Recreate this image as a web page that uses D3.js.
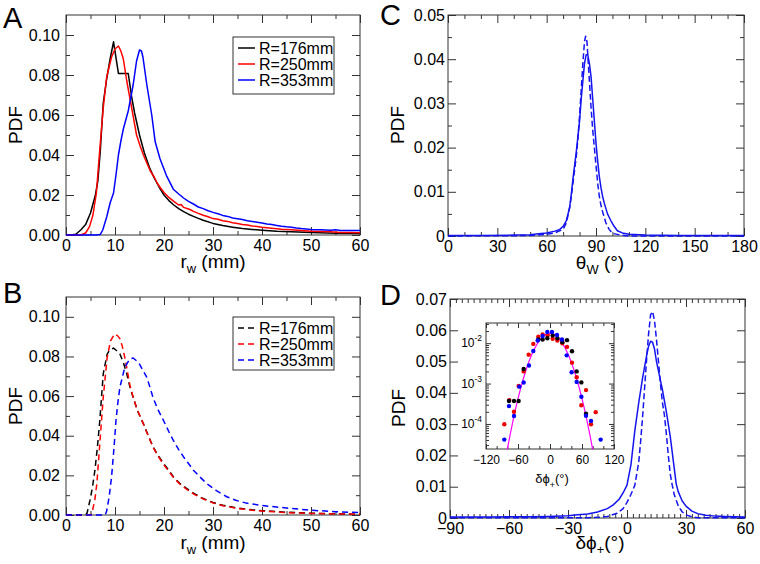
<!DOCTYPE html>
<html><head><meta charset="utf-8">
<script src="https://cdn.jsdelivr.net/npm/d3@7"></script>
<style>body{margin:0;background:#fff}svg{display:block;font-family:"Liberation Sans",Arial,Helvetica,sans-serif}</style>
</head><body><svg id="c" width="760" height="564"></svg>
<script>
// ---------------- DATA ----------------
const legendNames = ["R=176mm", "R=250mm", "R=353mm"];
const seriesColors = ["#000000", "#ff0000", "#0000ff"];

// Panel A (measured PDFs of r_w)
const aR176 = [[0,0],[1,0],[2,0.0004],[3,0.0025],[4,0.0052],[5,0.011],[6,0.020],[6.5,0.027],[7,0.042],[7.6,0.066],[8.3,0.078],[9,0.088],[9.7,0.0966],[10.7,0.0808],[12.7,0.0808],[13.4,0.069],[14,0.061],[15,0.05],[16,0.041],[17,0.034],[18,0.0285],[19,0.024],[20,0.0200],[21,0.0172],[22,0.0150],[23,0.0132],[24,0.0117],[25,0.0104],[26,0.0093],[27,0.0083],[28,0.0074],[30,0.0058],[32,0.0047],[34,0.0039],[36,0.0032],[38,0.0028],[40,0.0024],[43,0.0019],[46,0.0016],[50,0.0012],[55,0.0009],[60,0.0007]];
const aR250 = [[0,0],[3,0],[3.5,0.0005],[4,0.001],[4.8,0.0042],[5.5,0.01],[6.2,0.021],[6.9,0.043],[7.6,0.0636],[8.3,0.079],[9.3,0.089],[10,0.093],[10.7,0.0945],[11.2,0.092],[11.7,0.088],[12.4,0.077],[13.4,0.0636],[14.4,0.05],[15.2,0.044],[15.8,0.04],[16.5,0.036],[17.2,0.032],[18,0.029],[18.6,0.026],[19.3,0.0235],[20,0.0213],[21,0.0188],[22,0.0168],[23,0.0150],[23.5,0.0152],[24,0.0138],[25,0.0130],[25.5,0.0125],[26,0.0118],[27,0.0108],[28,0.0099],[29,0.0091],[30,0.0082],[31,0.0079],[32,0.0071],[33,0.0068],[34,0.0061],[35,0.0058],[36,0.0053],[37,0.0050],[38,0.0045],[39,0.0043],[40,0.0039],[42,0.0034],[44,0.0029],[46,0.0026],[48,0.0022],[50,0.0019],[52,0.0017],[54,0.0016],[56,0.0013],[58,0.0012],[60,0.0011]];
const aR353 = [[0,0],[6,0],[7,0.0003],[7.5,0.0025],[8.3,0.009],[9,0.016],[9.7,0.021],[10.2,0.03],[10.7,0.04],[11.2,0.047],[11.7,0.053],[12.7,0.062],[13.7,0.075],[14.4,0.087],[15,0.0925],[15.4,0.092],[15.7,0.089],[16.5,0.075],[17.5,0.06],[18.2,0.0466],[19.2,0.038],[20.5,0.0297],[21.9,0.0229],[23,0.0205],[24,0.0185],[25,0.0168],[26,0.0155],[27,0.0140],[28,0.0132],[29,0.0121],[30,0.0113],[31,0.0106],[32,0.0098],[33,0.0093],[34,0.0085],[35,0.0081],[36,0.0077],[37,0.0071],[38,0.0068],[39,0.0064],[40,0.0060],[41,0.0055],[42,0.0052],[43,0.0048],[44,0.0044],[45,0.0041],[46,0.0039],[47,0.0035],[48,0.0032],[49,0.0030],[50,0.0028],[52,0.0026],[54,0.0024],[55,0.0026],[56,0.0022],[58,0.0023],[60,0.0022]];

// Panel B (model PDFs of r_w, dashed)
const bR176 = [[0,0],[4,0],[4.3,0.001],[4.9,0.0075],[5.4,0.014],[5.9,0.0226],[6.4,0.034],[6.9,0.0477],[7.6,0.0712],[8.4,0.0812],[9.0,0.0835],[9.7,0.0842],[10.3,0.083],[11,0.0812],[11.7,0.077],[12.4,0.0712],[13,0.065],[13.7,0.0594],[14.7,0.052],[15.8,0.046],[16.8,0.040],[17.8,0.0343],[18.8,0.030],[19.9,0.026],[21,0.0225],[21.9,0.0193],[23.2,0.016],[24.6,0.0134],[26,0.011],[28,0.0083],[30,0.0063],[32,0.0049],[35,0.0035],[38,0.0026],[40,0.0022],[45,0.0014],[50,0.0009],[55,0.0006],[60,0.0004]];
const bR250 = [[0,0],[5,0],[5.4,0.002],[5.9,0.008],[6.3,0.0159],[6.9,0.036],[7.6,0.0594],[8.4,0.0795],[9.1,0.0879],[9.9,0.0913],[10.5,0.0905],[11,0.089],[11.5,0.085],[12,0.0795],[12.5,0.073],[13,0.066],[13.7,0.0595],[14.4,0.054],[15.8,0.046],[16.8,0.0398],[17.8,0.034],[18.8,0.0297],[19.9,0.0255],[21,0.022],[21.9,0.019],[23.2,0.0157],[24.6,0.013],[26,0.0107],[28,0.0081],[30,0.0061],[32,0.0047],[35,0.0033],[38,0.0024],[40,0.0020],[45,0.0012],[50,0.0008],[55,0.0005],[60,0.0004]];
const bR353 = [[0,0],[8,0],[8.3,0.002],[8.8,0.009],[9.3,0.0193],[9.8,0.034],[10.2,0.0477],[10.6,0.057],[11,0.0645],[12,0.0745],[13,0.0787],[13.7,0.0792],[14.8,0.077],[15.7,0.073],[16.5,0.0695],[17.8,0.059],[18.8,0.053],[19.9,0.0477],[21,0.042],[21.9,0.0377],[23,0.033],[24,0.0293],[25,0.026],[26,0.0226],[27.3,0.0193],[28.7,0.0159],[30.7,0.0123],[32.8,0.0092],[34.8,0.0073],[36.8,0.0060],[40,0.0048],[45,0.0035],[50,0.0024],[55,0.0017],[60,0.0012]];

// Panel C (theta_W)
const cSolid = [[0,0.0001],[20,0.0001],[40,0.0002],[50,0.0003],[55,0.0005],[60,0.0007],[65,0.0011],[68,0.0015],[70,0.0022],[72,0.0035],[74,0.0065],[75,0.0095],[76,0.013],[77,0.016],[78,0.019],[79,0.0225],[80,0.026],[81,0.031],[82,0.035],[83,0.039],[84,0.041],[85,0.041],[86,0.039],[87,0.036],[88,0.031],[89,0.026],[90,0.021],[91,0.017],[92,0.0135],[93,0.011],[94,0.009],[95,0.0075],[97,0.005],[99,0.0035],[101,0.0022],[103,0.0012],[106,0.0007],[110,0.0004],[120,0.0002],[140,0.0001],[180,0.0001]];
const cDashed = [[0,0],[50,0.0001],[60,0.0004],[65,0.0007],[70,0.0015],[72,0.003],[74,0.0065],[75,0.009],[76,0.012],[77,0.015],[78,0.018],[79,0.022],[80,0.027],[81,0.033],[82,0.039],[83,0.044],[83.7,0.0452],[84.5,0.044],[85,0.041],[86,0.035],[87,0.029],[88,0.024],[89,0.020],[90,0.016],[91,0.012],[92,0.009],[93,0.007],[94,0.0055],[96,0.003],[98,0.0015],[100,0.0006],[105,0.0002],[110,0],[180,0]];

// Panel D (delta phi_+)
const dSolid = [[-90,0.0003],[-80,0.0003],[-70,0.0003],[-60,0.0004],[-50,0.0004],[-40,0.0005],[-30,0.0007],[-25,0.0010],[-20,0.0013],[-15,0.0019],[-10,0.0030],[-7,0.0042],[-4,0.0060],[-2,0.0080],[0,0.0105],[2,0.017],[4,0.028],[6,0.037],[8,0.045],[10,0.052],[11,0.055],[12,0.0565],[13,0.0562],[14,0.054],[15,0.050],[16,0.047],[17,0.044],[18,0.041],[20,0.034],[21,0.030],[22,0.026],[24,0.016],[25,0.011],[26,0.0085],[28,0.0055],[30,0.0038],[33,0.0022],[36,0.0014],[40,0.0009],[45,0.0006],[50,0.0005],[55,0.0004],[60,0.0003]];
const dDashed = [[-90,0.0001],[-20,0.0001],[-15,0.0002],[-10,0.0005],[-5,0.0015],[-2,0.003],[0,0.005],[2,0.0075],[4,0.0105],[6,0.018],[7,0.025],[8,0.033],[9,0.042],[10,0.051],[11,0.059],[12,0.065],[13,0.066],[14,0.063],[15,0.057],[16,0.050],[17,0.043],[18,0.037],[19,0.033],[20,0.027],[21,0.020],[22,0.014],[23,0.0105],[24,0.0075],[26,0.004],[28,0.002],[30,0.001],[33,0.0004],[36,0.0001],[40,0.0001],[60,0.0001]];

// Inset of D (log scale)
const insetBlack = [[-76.9,3.7e-4],[-67.5,3.7e-4],[-58.8,3.7e-4],[-49.4,2.3e-3],[-21.9,1.23e-2],[-13.8,1.23e-2],[-5,1.33e-2],[5,1.56e-2],[13.8,1.33e-2],[23.1,1.06e-2],[31.9,1.19e-2],[41.3,6.3e-3],[50,2.0e-3],[58.8,1.07e-3],[67.5,1.8e-4]];
const insetRed = [[-85.7,9.8e-5],[-76.3,3.9e-4],[-67.5,2.0e-4],[-58.8,8.7e-4],[-49.4,2.0e-3],[-40,5.2e-3],[-31.3,9.6e-3],[-21.9,1.44e-2],[-13.8,1.65e-2],[-4.4,1.58e-2],[5,1.29e-2],[13.8,1.17e-2],[23.1,1.0e-2],[31.9,8.1e-3],[41.3,3.3e-3],[50,1.44e-3],[58.8,2.9e-4],[67.5,6.9e-4],[76.9,9.8e-5],[85.7,1.96e-4]];
const insetBlue = [[-85.7,4.1e-5],[-76.9,2.77e-4],[-67.5,1.58e-4],[-57.5,8.4e-4],[-49.4,1.06e-3],[-39.4,2.8e-3],[-31.3,6.4e-3],[-23.1,1.17e-2],[-13.8,1.5e-2],[-5,1.9e-2],[3.75,1.9e-2],[13.1,1.6e-2],[22.5,1.23e-2],[31.3,5.0e-3],[40.6,1.9e-3],[50,1.1e-3],[58.8,4.7e-4],[67.5,1.6e-4],[76.9,1.19e-4],[95,4.1e-5]];
const insetFit = [[-80,2.35e-5],[-75,5.24e-5],[-70,1.1e-4],[-65,2.22e-4],[-60,4.25e-4],[-55,7.69e-4],[-50,1.32e-3],[-45,2.16e-3],[-40,3.35e-3],[-35,4.93e-3],[-30,6.9e-3],[-25,9.17e-3],[-20,1.16e-2],[-15,1.387e-2],[-10,1.58e-2],[-5,1.705e-2],[0,1.75e-2],[5,1.705e-2],[10,1.58e-2],[15,1.387e-2],[20,1.16e-2],[25,9.17e-3],[30,6.9e-3],[35,4.93e-3],[40,3.35e-3],[45,2.16e-3],[50,1.32e-3],[55,7.69e-4],[60,4.25e-4],[65,2.22e-4],[70,1.1e-4],[75,5.24e-5],[80,2.35e-5]];

// Tick values
const rwTicks = [0,10,20,30,40,50,60];
const rwMinor = [5,15,25,35,45,55];
const pdfTicksAB = [0,0.02,0.04,0.06,0.08,0.10];
const pdfMinorAB = [0.01,0.03,0.05,0.07,0.09];
const thetaTicks = [0,30,60,90,120,150,180];
const thetaMinor = [10,20,40,50,70,80,100,110,130,140,160,170];
const pdfTicksC = [0,0.01,0.02,0.03,0.04,0.05];
const pdfMinorC = [0.005,0.015,0.025,0.035,0.045];
const phiTicks = [-90,-60,-30,0,30,60];
const phiMinor = [-87,-84,-81,-78,-75,-72,-69,-66,-63,-57,-54,-51,-48,-45,-42,-39,-36,-33,-27,-24,-21,-18,-15,-12,-9,-6,-3,3,6,9,12,15,18,21,24,27,33,36,39,42,45,48,51,54,57];
const pdfTicksD = [0,0.01,0.02,0.03,0.04,0.05,0.06,0.07];
const insetXTicks = [-120,-60,0,60,120];
const insetXMinor = [-100,-80,-40,-20,20,40,80,100];
const insetYTicks = [1e-4,1e-3,1e-2];
const insetYExp = ["-4","-3","-2"];
const insetYMinor = [3e-5,4e-5,5e-5,6e-5,7e-5,8e-5,9e-5,2e-4,3e-4,4e-4,5e-4,6e-4,7e-4,8e-4,9e-4,2e-3,3e-3,4e-3,5e-3,6e-3,7e-3,8e-3,9e-3,2e-2,3e-2];

// ---------------- DRAWING ----------------
const svg = d3.select("#c");
const FONT = '"Liberation Sans",Arial,Helvetica,sans-serif';
const AX = "#333";
let clipN = 0;

function makePanel(o) {
  const x = d3.scaleLinear().domain(o.xd).range([o.l, o.r]);
  const y = (o.log ? d3.scaleLog() : d3.scaleLinear()).domain(o.yd).range([o.b, o.t]);
  const g = svg.append("g");
  if (o.bg) g.append("rect").attr("x", o.l).attr("y", o.t).attr("width", o.r - o.l).attr("height", o.b - o.t).attr("fill", "#fff");
  const id = "clip" + (clipN++);
  svg.append("clipPath").attr("id", id).append("rect")
    .attr("x", o.l).attr("y", o.t - 1).attr("width", o.r - o.l).attr("height", o.b - o.t + 2);
  const fs = o.fs || 16, maj = o.maj || 8, mn = o.mn || 4;
  function style(sel) {
    sel.attr("font-family", FONT).attr("font-size", fs);
    sel.select(".domain").remove();
    sel.selectAll(".tick line").attr("stroke", AX).attr("stroke-width", 1);
    sel.selectAll(".tick text").attr("fill", "#000");
  }
  g.append("g").attr("transform", `translate(0,${o.b})`)
    .call(d3.axisBottom(x).tickValues(o.xt).tickSize(-maj).tickPadding(o.xpad || 5).tickFormat(o.xf)).call(style);
  g.append("g").attr("transform", `translate(0,${o.b})`)
    .call(d3.axisBottom(x).tickValues(o.xm).tickSize(-mn).tickFormat("")).call(style);
  g.append("g").attr("transform", `translate(0,${o.t})`)
    .call(d3.axisTop(x).tickValues(o.xt).tickSize(-maj).tickFormat("")).call(style);
  g.append("g").attr("transform", `translate(0,${o.t})`)
    .call(d3.axisTop(x).tickValues(o.xm).tickSize(-mn).tickFormat("")).call(style);
  g.append("g").attr("transform", `translate(${o.l},0)`)
    .call(d3.axisLeft(y).tickValues(o.yt).tickSize(-maj).tickPadding(o.ypad || 5).tickFormat(o.log ? "" : o.yf)).call(style);
  if (o.ym) g.append("g").attr("transform", `translate(${o.l},0)`)
    .call(d3.axisLeft(y).tickValues(o.ym).tickSize(-mn).tickFormat("")).call(style);
  g.append("g").attr("transform", `translate(${o.r},0)`)
    .call(d3.axisRight(y).tickValues(o.yt).tickSize(-maj).tickFormat("")).call(style);
  if (o.ym) g.append("g").attr("transform", `translate(${o.r},0)`)
    .call(d3.axisRight(y).tickValues(o.ym).tickSize(-mn).tickFormat("")).call(style);
  if (o.log) {
    o.yt.forEach((v, i) => {
      const t = g.append("text").attr("x", o.l - (o.ypad || 4)).attr("y", y(v) + 4)
        .attr("text-anchor", "end").attr("font-family", FONT).attr("font-size", fs);
      t.append("tspan").text("10");
      t.append("tspan").attr("font-size", fs * 0.7).attr("dy", -6).text(o.yexp[i]);
    });
  }
  g.append("rect").attr("x", o.l).attr("y", o.t).attr("width", o.r - o.l).attr("height", o.b - o.t)
    .attr("fill", "none").attr("stroke", AX).attr("stroke-width", 1);
  const plot = g.append("g").attr("clip-path", `url(#${id})`);
  return { x, y, g, plot };
}

function drawLine(p, data, color, dash, w) {
  const line = d3.line().x(d => p.x(d[0])).y(d => p.y(d[1]));
  p.plot.append("path").datum(data).attr("d", line).attr("fill", "none")
    .attr("stroke", color).attr("stroke-width", w || 1.5)
    .attr("stroke-dasharray", dash || null).attr("stroke-linejoin", "round");
}

function xTitle(cx, y, main, sub, rest, fs) {
  const t = svg.append("text").attr("x", cx).attr("y", y).attr("text-anchor", "middle")
    .attr("font-family", FONT).attr("font-size", fs || 19);
  t.append("tspan").text(main);
  t.append("tspan").attr("font-size", (fs || 19) * 0.68).attr("dy", 5).text(sub);
  t.append("tspan").attr("dy", -5).text(rest);
}
function yTitle(cx, cy, txt) {
  svg.append("text").attr("transform", `translate(${cx},${cy}) rotate(-90)`)
    .attr("text-anchor", "middle").attr("font-family", FONT).attr("font-size", 19).text(txt);
}
function letter(x, y, s) {
  svg.append("text").attr("x", x).attr("y", y).attr("font-family", FONT).attr("font-size", 29).text(s);
}
function legend(x0, y0, w, h, rows, dash) {
  svg.append("rect").attr("x", x0).attr("y", y0).attr("width", w).attr("height", h)
    .attr("fill", "#fff").attr("stroke", AX).attr("stroke-width", 1);
  legendNames.forEach((n, i) => {
    svg.append("line").attr("x1", x0 + 5).attr("x2", x0 + 22).attr("y1", rows[i]).attr("y2", rows[i])
      .attr("stroke", seriesColors[i]).attr("stroke-width", 1.5).attr("stroke-dasharray", dash || null);
    svg.append("text").attr("x", x0 + 26).attr("y", rows[i] + 5.6).attr("font-family", FONT)
      .attr("font-size", 16).text(n);
  });
}

const f2 = d3.format(".2f");
const fC = d => d === 0 ? "0" : f2(d);
const fInt = d3.format("d");

// Panel A
const pA = makePanel({ l: 66, r: 360, t: 15, b: 235, xd: [0, 60], yd: [0, 0.11],
  xt: rwTicks, xm: rwMinor, yt: pdfTicksAB, ym: pdfMinorAB, xf: fInt, yf: f2, ypad: 6 });
[aR176, aR250, aR353].forEach((d, i) => drawLine(pA, d, seriesColors[i]));
legend(233, 37, 101, 57, [48, 64, 80]);
xTitle(213, 268, "r", "w", " (mm)");
yTitle(22, 125, "PDF");
letter(3, 28, "A");

// Panel B
const pB = makePanel({ l: 66, r: 360, t: 297, b: 515, xd: [0, 60], yd: [0, 0.11],
  xt: rwTicks, xm: rwMinor, yt: pdfTicksAB, ym: pdfMinorAB, xf: fInt, yf: f2, ypad: 6 });
[bR176, bR250, bR353].forEach((d, i) => drawLine(pB, d, seriesColors[i], "6,4"));
legend(233, 317, 101, 53, [328, 344, 360], "6,4");
xTitle(213, 549, "r", "w", " (mm)");
yTitle(22, 406, "PDF");
letter(3, 303, "B");

// Panel C
const pC = makePanel({ l: 448, r: 744, t: 15, b: 236, xd: [0, 180], yd: [0, 0.05],
  xt: thetaTicks, xm: thetaMinor, yt: pdfTicksC, ym: pdfMinorC, xf: fInt, yf: fC, ypad: 3 });
drawLine(pC, cSolid, "#1414ee", null, 1.5);
drawLine(pC, cDashed, "#1414ee", "6,3", 1.5);
xTitle(600, 269, "θ", "W", " (°)");
yTitle(404, 125, "PDF");
letter(380, 25, "C");

// Panel D
const pD = makePanel({ l: 450, r: 745, t: 299, b: 518, xd: [-90, 60], yd: [0, 0.07],
  xt: phiTicks, xm: phiMinor, yt: pdfTicksD, ym: null, xf: fInt, yf: fC, ypad: 3 });
drawLine(pD, dSolid, "#1414ee", null, 1.5);
drawLine(pD, dDashed, "#1414ee", "6,3", 1.5);
xTitle(600, 549, "δϕ", "+", "(°)");
yTitle(405, 408, "PDF");
letter(380, 305, "D");

// Inset
const pI = makePanel({ l: 486, r: 614, t: 323, b: 449, xd: [-120, 120], yd: [2.4e-5, 0.0316], log: true,
  xt: insetXTicks, xm: insetXMinor, yt: insetYTicks, ym: insetYMinor, yexp: insetYExp,
  xf: fInt, fs: 12, maj: 5, mn: 3, xpad: 6, ypad: 4, bg: true });
drawLine(pI, insetFit, "#ff00ff", null, 1.2);
[[insetRed, "#ee0000"], [insetBlack, "#000"], [insetBlue, "#0000ff"]].forEach(([d, c]) => {
  pI.plot.selectAll(null).data(d).enter().append("circle")
    .attr("cx", v => pI.x(v[0])).attr("cy", v => pI.y(v[1])).attr("r", 2.2).attr("fill", c);
});
xTitle(552, 483, "δϕ", "+", "(°)", 13);
</script></body></html>
